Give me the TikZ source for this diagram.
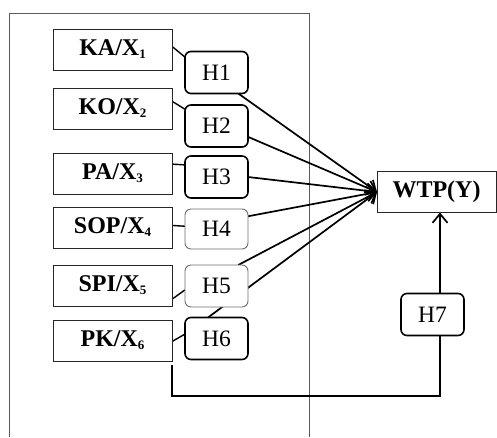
\documentclass[tikz,border=0pt]{standalone}
\usepackage{fontspec}
\setmainfont{Liberation Serif}
\usepackage{tikz}
\usetikzlibrary{arrows.meta,positioning,backgrounds}
\usepackage{xcolor}
\definecolor{marco}{RGB}{90,90,90}
\definecolor{suave}{RGB}{110,110,110}
\newcommand{\xsub}[1]{\raisebox{-3pt}{\fontsize{13}{13}\selectfont #1}}

\begin{document}
\begin{tikzpicture}[
     xbox/.style={rectangle, draw=black!85, line width=0.9pt, fill=white,
                  minimum width=119pt, minimum height=41pt, outer sep=0pt,
                  font=\fontsize{24}{28}\selectfont\bfseries},
     hbox/.style={rectangle, rounded corners=6pt, draw=black, line width=1.6pt,
                  fill=white, minimum width=63pt, minimum height=42pt,
                  outer sep=0pt, font=\fontsize{23.5}{27}\selectfont},
     hsoft/.style={hbox, draw=suave, line width=0.9pt},
     lk/.style={black, line width=1.4pt},
     fl/.style={-{Straight Barb[length=9pt,width=15pt]}, black, line width=1.7pt}]
    \useasboundingbox (0,0) rectangle (497pt,-437pt);
    % variables
    \node[xbox] (ka) at (112.5pt,-49.5pt) {KA/X\xsub{1}};
    \node[xbox, below=18pt of ka] (ko) {KO/X\xsub{2}};
    \node[xbox, below=24pt of ko] (pa) {PA/X\xsub{3}};
    \node[xbox, below=13pt of pa] (sop) {SOP/X\xsub{4}};
    \node[xbox, below=17pt of sop] (spi) {SPI/X\xsub{5}};
    \node[xbox, below=14pt of spi] (pk) {PK/X\xsub{6}};
    % hipotesis
    \node[hbox, right=13pt of ka, yshift=-23pt] (h1) {H1};
    \node[hbox, right=13pt of ko, yshift=-17.5pt] (h2) {H2};
    \node[hbox, right=13pt of pa, yshift=-3.5pt] (h3) {H3};
    \node[hsoft, right=13pt of sop, yshift=-1.5pt, minimum height=40pt] (h4) {H4};
    \node[hsoft, right=13pt of spi, yshift=-0.5pt] (h5) {H5};
    \node[hbox, right=13pt of pk, yshift=2pt] (h6) {H6};
    \node[xbox] (wtp) at (436.5pt,-192pt) {WTP(Y)};
    \node[hbox] (h7) at (432.5pt,-314.5pt) {H7};
    \coordinate (pkout) at ([yshift=-4pt]pk.south east);
    \coordinate (h7in) at ([xshift=7.5pt]h7.south);
    \begin{scope}[on background layer]
      \draw[marco, line width=0.9pt] (9pt,-437pt) |- (309pt,-13pt) -- (309pt,-437pt);
      \draw[lk] (ka.3) -- (h1.154);
      \draw[lk] (ko.7) -- (h2.152);
      \draw[lk] (pa.9) -- (h3.159);
      \draw[lk] (sop.2) -- (h4.175);
      \draw[lk] (spi.-13) -- (h5.187);
      \draw[lk] (pk.-1) -- (h6.172);
      \draw[fl] (h1.-44) -- (wtp.west);
      \draw[fl] (h2.-19) -- (wtp.west);
      \draw[fl] (h3.east) -- (wtp.west);
      \draw[fl] (h4.22) -- (wtp.west);
      \draw[fl] (h5.44) -- (wtp.west);
      \draw[fl] (h6.112) -- (wtp.west);
      \draw[lk] (pkout) -- ++(0,-31pt) -| (h7in);
      \draw[fl] ([xshift=7.5pt]h7.north) -- ([xshift=3.5pt]wtp.south);
    \end{scope}
  \end{tikzpicture}
\end{document}
